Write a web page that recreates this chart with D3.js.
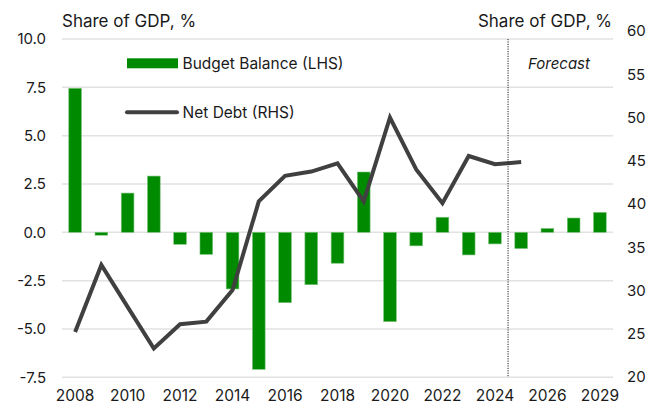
<!DOCTYPE html>
<html>
<head>
<meta charset="utf-8">
<script src="https://cdn.jsdelivr.net/npm/d3@7"></script>
<style>
  html, body { margin: 0; padding: 0; background: #fff; }
  svg { display: block; }
  text { font-family: Inter, "Liberation Sans", Arial, sans-serif; fill: #1a1a1a; }
</style>
</head>
<body>
<svg id="chart" width="663" height="408"></svg>
<script>
// ---- data ----
const years = ["2008","2009","2010","2011","2012","2013","2014","2015","2016","2017","2018",
               "2019","2020","2021","2022","2023","2024","2025","2026","2027","2029"];
const budgetBalance = [7.45, -0.15, 2.03, 2.91, -0.62, -1.14, -2.93, -7.09, -3.64, -2.71, -1.6,
                       3.12, -4.62, -0.7, 0.78, -1.17, -0.6, -0.84, 0.2, 0.74, 1.03];
const netDebtYears = ["2008","2009","2010","2011","2012","2013","2014","2015","2016","2017","2018",
                      "2019","2020","2021","2022","2023","2024","2025"];
const netDebt = [25.2, 32.95, 28.1, 23.3, 26.1, 26.4, 30.05, 40.3, 43.25, 43.75, 44.7,
                 40.3, 50.0, 44.0, 40.1, 45.55, 44.6, 44.85];
const xTickLabels = ["2008","2010","2012","2014","2016","2018","2020","2022","2024","2026","2029"];
const leftTicks = [-7.5, -5, -2.5, 0, 2.5, 5, 7.5, 10];
const rightTicks = [20, 25, 30, 35, 40, 45, 50, 55, 60];
const forecastStart = "2025";

// ---- layout ----
const svg = d3.select("#chart");
const plotL = 62, plotR = 613;
const FONT = 'Inter, "Liberation Sans", Arial, sans-serif';

const x = d3.scaleBand().domain(years).range([plotL, plotR]).paddingInner(0.516).paddingOuter(0.258);
const yL = d3.scaleLinear().domain([-7.5, 10]).range([377.3, 39]);
const yR = d3.scaleLinear().domain([20, 60]).range([377, 31]);

// gridlines
svg.append("g").selectAll("line").data(leftTicks).join("line")
  .attr("x1", plotL).attr("x2", plotR)
  .attr("y1", d => yL(d)).attr("y2", d => yL(d))
  .attr("stroke", "#e2e2e2").attr("stroke-width", 1.5);

// bars
svg.append("g").selectAll("rect").data(years.map((y, i) => ({y, v: budgetBalance[i]}))).join("rect")
  .attr("x", d => x(d.y))
  .attr("width", x.bandwidth())
  .attr("y", d => yL(Math.max(0, d.v)))
  .attr("height", d => Math.abs(yL(d.v) - yL(0)))
  .attr("fill", "#008a00")
  .attr("stroke", "#7cc47c").attr("stroke-width", 0.6);

// net debt line
const line = d3.line()
  .x((d, i) => x(netDebtYears[i]) + x.bandwidth() / 2)
  .y(d => yR(d));
svg.append("path").datum(netDebt)
  .attr("d", line)
  .attr("fill", "none")
  .attr("stroke", "#404040")
  .attr("stroke-width", 4)
  .attr("stroke-linejoin", "miter");

// forecast divider
const fx = x(forecastStart) - x.step() * x.paddingInner() / 2;
svg.append("line")
  .attr("x1", fx).attr("x2", fx)
  .attr("y1", yL(10)).attr("y2", yL(-7.5))
  .attr("stroke", "#222").attr("stroke-width", 1)
  .attr("stroke-dasharray", "1.2,1.2");

svg.append("text").attr("x", 559).attr("y", 68.5)
  .attr("text-anchor", "middle").attr("font-size", 15).attr("font-style", "italic")
  .text("Forecast");

// left axis
const axL = d3.axisLeft(yL).tickValues(leftTicks).tickSize(0).tickPadding(0)
  .tickFormat(d => d3.format(".1f")(d).replace("\u2212", "-"));
const gL = svg.append("g").attr("transform", "translate(46,0)").call(axL);
gL.select(".domain").remove();
gL.selectAll("text").attr("font-size", 15).attr("fill", "#1a1a1a").style("font-family", FONT);

// right axis
const axR = d3.axisRight(yR).tickValues(rightTicks).tickSize(0).tickPadding(0);
const gR = svg.append("g").attr("transform", "translate(627,0)").call(axR);
gR.select(".domain").remove();
gR.selectAll("text").attr("font-size", 15).attr("fill", "#1a1a1a").style("font-family", FONT);

// bottom axis
const axB = d3.axisBottom(x).tickValues(years.filter((y, i) => i % 2 === 0)).tickSize(0).tickPadding(0)
  .tickFormat((d, i) => xTickLabels[i]);
const gB = svg.append("g").attr("transform", "translate(0,390)").call(axB);
gB.select(".domain").remove();
gB.selectAll("text").attr("font-size", 15.5).attr("fill", "#1a1a1a").style("font-family", FONT);

// titles
svg.append("text").attr("x", 62).attr("y", 27).attr("font-size", 17).text("Share of GDP, %");
svg.append("text").attr("x", 612).attr("y", 27).attr("text-anchor", "end").attr("font-size", 17).text("Share of GDP, %");

// legend
svg.append("rect").attr("x", 127).attr("y", 58.3).attr("width", 51).attr("height", 10).attr("fill", "#008a00");
svg.append("text").attr("x", 182.5).attr("y", 69).attr("font-size", 15.5).text("Budget Balance (LHS)");
svg.append("line").attr("x1", 127).attr("x2", 177).attr("y1", 112.3).attr("y2", 112.3)
  .attr("stroke", "#404040").attr("stroke-width", 4).attr("stroke-linecap", "round");
svg.append("text").attr("x", 182.5).attr("y", 118).attr("font-size", 15.5).text("Net Debt (RHS)");
</script>
</body>
</html>
